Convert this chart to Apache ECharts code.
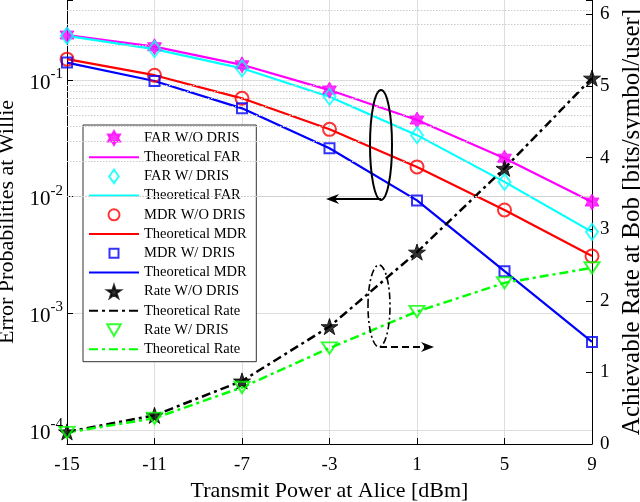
<!DOCTYPE html>
<html><head><meta charset="utf-8">
<script src="https://cdn.jsdelivr.net/npm/echarts@6/dist/echarts.min.js"></script>
<style>html,body{margin:0;padding:0;background:#fff}#c{width:640px;height:502px}</style>
</head><body><div id="c"></div>
<script>
// ---- data ----
const xLabels = ['-15', '-11', '-7', '-3', '1', '5', '9'];
const farWO  = [0.243, 0.193, 0.135, 0.082, 0.0454, 0.0214, 0.0090];
const farW   = [0.239, 0.184, 0.126, 0.0719, 0.0337, 0.0134, 0.0050];
const mdrWO  = [0.151, 0.110, 0.0697, 0.0378, 0.0180, 0.0077, 0.0031];
const mdrW   = [0.141, 0.098, 0.0572, 0.0260, 0.0093, 0.0023, 0.00057];
const rateWO = [0.17, 0.40, 0.88, 1.64, 2.68, 3.85, 5.11];
const rateW  = [0.16, 0.36, 0.79, 1.34, 1.85, 2.25, 2.46];
const rightTicks = [0, 1, 2, 3, 4, 5, 6];

const F = 'Liberation Serif';
const LOG_MIN = 7.6e-5, LOG_MAX = 0.485;
const minorVals = [];
for (let e = -5; e <= -1; e++) for (let k = 2; k <= 9; k++) {
  const v = k * Math.pow(10, e);
  if (v > LOG_MIN && v < LOG_MAX) minorVals.push(v);
}

// marker shapes
const HEX = 'path://M100,0 L128.87,50 L186.6,50 L157.7,100 L186.6,150 L128.87,150 L100,200 L71.13,150 L13.4,150 L42.3,100 L13.4,50 L71.13,50 Z';
const PENT = 'path://M100,0 L122.45,69.1 L195.1,69.1 L136.3,111.8 L158.8,180.9 L100,138.2 L41.2,180.9 L63.7,111.8 L4.9,69.1 L77.55,69.1 Z';
const TRI_DOWN = 'path://M0,0 L200,0 L100,173.2 Z';
// legend icons (drawn in a 500x140 box = 50x14 legend item)
const BOX = 'path://M0,0 M500,140 ';
const IC_HEX = BOX + 'M250,0 L270.2,35 L310.6,35 L290.4,70 L310.6,105 L270.2,105 L250,140 L229.8,105 L189.4,105 L209.6,70 L189.4,35 L229.8,35 Z';
const IC_DIA = BOX + 'M250,2 L298,70 L250,138 L202,70 Z';
const IC_CIR = BOX + 'M195,70 A55,55 0 1,0 305,70 A55,55 0 1,0 195,70 Z';
const IC_SQ = BOX + 'M205,25 L295,25 L295,115 L205,115 Z';
const IC_PENT = BOX + 'M250,7 L265.7,55.4 L316.6,55.4 L275.4,85.3 L291.2,133.6 L250,103.7 L208.8,133.6 L224.6,85.3 L183.4,55.4 L234.3,55.4 Z';
const IC_TRI = BOX + 'M182,12 L318,12 L250,130 Z';

function pts(name, data, yIdx, symbol, size, color, filled) {
  return {
    name, type: 'scatter', data, yAxisIndex: yIdx, symbol, symbolSize: size, symbolKeepAspect: true, z: 5,
    itemStyle: { color: filled ? color : 'rgba(255,255,255,0)', borderColor: color, borderWidth: filled ? 1 : 2 }
  };
}
function line(name, data, yIdx, color, type, width) {
  return {
    name, type: 'line', data, yAxisIndex: yIdx, symbol: 'none', z: 3,
    lineStyle: { color, type, width }, itemStyle: { color }
  };
}
const dashDot = [9, 4, 3, 4];
const noSym = { opacity: 0 };

const chart = echarts.init(document.getElementById('c'), null, { renderer: 'canvas' });
chart.setOption({
  animation: false,
  backgroundColor: '#fff',
  grid: { left: 67, right: 48, top: 0, bottom: 58, containLabel: false, outerBoundsMode: 'none' },
  xAxis: {
    type: 'category', data: xLabels, boundaryGap: false,
    name: 'Transmit Power at Alice [dBm]', nameLocation: 'middle', nameGap: 34,
    nameTextStyle: { fontFamily: F, fontSize: 22, color: '#000' },
    axisLine: { lineStyle: { color: '#000', width: 1 } },
    axisTick: { inside: true, length: 6, alignWithLabel: true, lineStyle: { color: '#000' } },
    axisLabel: { fontFamily: F, fontSize: 19, color: '#000', margin: 12 },
    splitLine: { show: true, lineStyle: { color: '#dedede', width: 1 } }
  },
  yAxis: [{
    type: 'log', logBase: 10, min: LOG_MIN, max: LOG_MAX, position: 'left',
    name: 'Error Probabilities at Willie', nameLocation: 'middle', nameGap: 43,
    nameTextStyle: { fontFamily: F, fontSize: 22, color: '#000' },
    axisLine: { show: true, lineStyle: { color: '#000', width: 1 } },
    axisTick: { show: true, inside: true, length: 6, lineStyle: { color: '#000' } },
    axisLabel: {
      margin: 4, fontFamily: F, color: '#000',
      formatter: function (v) {
        const l = Math.log10(v), r = Math.round(l);
        if (Math.abs(l - r) > 1e-6) return '';
        return '{b|10}{s|' + r + '}';
      },
      rich: {
        b: { fontFamily: F, fontSize: 21, color: '#000', verticalAlign: 'bottom', lineHeight: 27 },
        s: { fontFamily: F, fontSize: 15, color: '#000', verticalAlign: 'top', lineHeight: 27 }
      }
    },
    splitLine: { show: true, showMinLine: false, showMaxLine: false, lineStyle: { color: '#dedede', width: 1 } }
  }, {
    type: 'value', min: 0, max: 6.2, interval: 1, position: 'right',
    name: 'Achievable Rate at Bob [bits/symbol/user]', nameLocation: 'middle', nameGap: 25,
    nameRotate: 90,
    nameTextStyle: { fontFamily: F, fontSize: 25, color: '#000' },
    axisLine: { show: true, lineStyle: { color: '#000', width: 1 } },
    axisTick: { show: true, inside: true, length: 6, lineStyle: { color: '#000' } },
    axisLabel: {
      fontFamily: F, fontSize: 19, color: '#000', margin: 8,
      formatter: v => (rightTicks.indexOf(v) >= 0 ? String(v) : '')
    },
    splitLine: { show: false }
  }],
  legend: {
    left: 83, top: 125, orient: 'vertical',
    itemWidth: 50, itemHeight: 14, itemGap: 3.7,
    padding: [5, 6, 5, 5],
    backgroundColor: '#fff', borderColor: '#333', borderWidth: 1, borderRadius: 0,
    textStyle: { fontFamily: F, fontSize: 14.5, lineHeight: 14, color: '#000' },
    data: [
      { name: 'FAR W/O DRIS', icon: IC_HEX },
      { name: 'Theoretical FAR', itemStyle: noSym },
      { name: 'FAR W/ DRIS', icon: IC_DIA },
      { name: 'Theoretical FAR ', itemStyle: noSym },
      { name: 'MDR W/O DRIS', icon: IC_CIR },
      { name: 'Theoretical MDR', itemStyle: noSym },
      { name: 'MDR W/ DRIS', icon: IC_SQ },
      { name: 'Theoretical MDR ', itemStyle: noSym },
      { name: 'Rate W/O DRIS', icon: IC_PENT },
      { name: 'Theoretical Rate', itemStyle: noSym },
      { name: 'Rate W/ DRIS', icon: IC_TRI },
      { name: 'Theoretical Rate ', itemStyle: noSym }
    ]
  },
  series: [
    {
      name: '_grid', type: 'line', data: [], yAxisIndex: 0, z: 0, silent: true, symbol: 'none',
      markLine: {
        silent: true, symbol: 'none', label: { show: false }, animation: false,
        lineStyle: { color: '#cccccc', type: [1.5, 1.5], width: 1 },
        data: minorVals.map(v => ({ yAxis: v }))
      }
    },
    line('Theoretical FAR', farWO, 0, '#ff00ff', 'solid', 2.2),
    line('Theoretical FAR ', farW, 0, '#00ffff', 'solid', 2.2),
    line('Theoretical MDR', mdrWO, 0, '#ff0000', 'solid', 2.2),
    line('Theoretical MDR ', mdrW, 0, '#0000ff', 'solid', 2.2),
    line('Theoretical Rate', rateWO, 1, '#000000', dashDot, 2.5),
    line('Theoretical Rate ', rateW, 1, '#00ff00', dashDot, 2.5),
    pts('FAR W/O DRIS', farWO, 0, HEX, 16, '#ff00ff', true),
    pts('FAR W/ DRIS', farW, 0, 'diamond', [12, 16], '#00ffff', false),
    pts('MDR W/O DRIS', mdrWO, 0, 'circle', 13, '#ff0000', false),
    pts('MDR W/ DRIS', mdrW, 0, 'rect', 10, '#0000ff', false),
    pts('Rate W/O DRIS', rateWO, 1, PENT, 17, '#000000', true),
    pts('Rate W/ DRIS', rateW, 1, TRI_DOWN, [15, 13], '#00ff00', false)
  ],
  graphic: [
    { type: 'ellipse', shape: { cx: 381, cy: 145, rx: 11, ry: 55 }, style: { fill: 'none', stroke: '#000', lineWidth: 2 }, z: 10 },
    { type: 'line', shape: { x1: 381, y1: 199, x2: 334, y2: 199 }, style: { stroke: '#000', lineWidth: 2 }, z: 10 },
    { type: 'polygon', shape: { points: [[326, 199], [339, 194], [335, 199], [339, 204]] }, style: { fill: '#000' }, z: 10 },
    { type: 'ellipse', shape: { cx: 379, cy: 306, rx: 11, ry: 41 }, style: { fill: 'none', stroke: '#000', lineWidth: 1.6, lineDash: [7, 3, 2, 3] }, z: 10 },
    { type: 'line', shape: { x1: 380, y1: 347, x2: 426, y2: 347 }, style: { stroke: '#000', lineWidth: 1.8, lineDash: [7, 4] }, z: 10 },
    { type: 'polygon', shape: { points: [[434, 347], [421, 342], [425, 347], [421, 352]] }, style: { fill: '#000' }, z: 10 }
  ]
});
</script>
</body></html>
